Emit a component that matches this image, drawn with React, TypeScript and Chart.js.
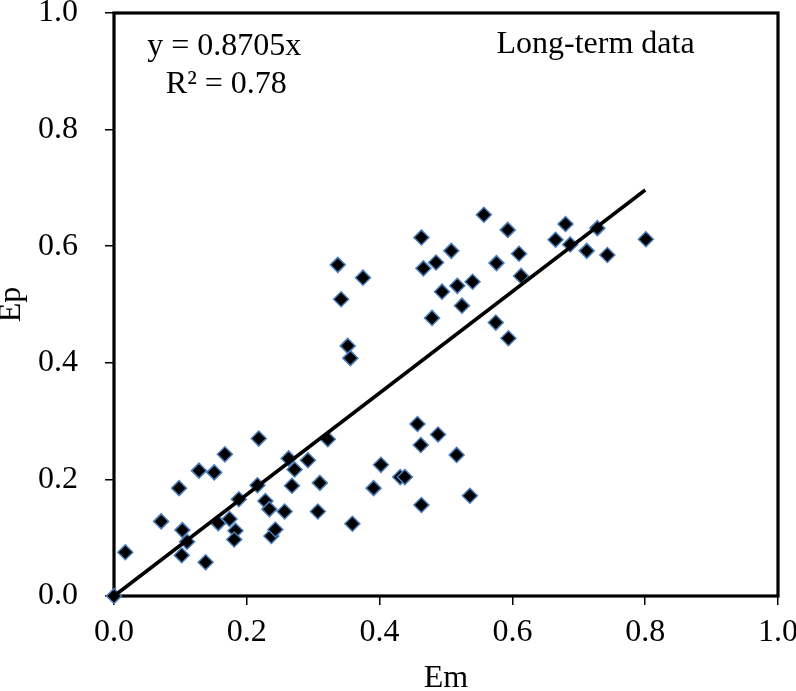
import { useEffect, useRef } from 'react';
import { Chart, registerables } from 'chart.js';

Chart.register(...registerables);

const emValues = [
  0.0, 0.017, 0.071, 0.098, 0.103, 0.102, 0.11, 0.128, 0.138, 0.151, 0.167, 0.157, 0.174, 0.183, 0.181, 0.188,
  0.218, 0.216, 0.228, 0.234, 0.237, 0.243, 0.257, 0.263, 0.272, 0.268, 0.292, 0.31, 0.307, 0.322,
  0.359, 0.391, 0.402, 0.431, 0.457, 0.488, 0.462, 0.516, 0.438, 0.536, 0.463,
  0.337, 0.375, 0.342, 0.352, 0.356, 0.463, 0.466, 0.485, 0.508, 0.494, 0.517, 0.54, 0.524, 0.479,
  0.557, 0.593, 0.576, 0.61, 0.613, 0.575, 0.594, 0.665, 0.68, 0.687, 0.712, 0.728, 0.743, 0.801,
];
const epValues = [
  0.0, 0.075, 0.128, 0.185, 0.113, 0.07, 0.093, 0.215, 0.058, 0.212, 0.243, 0.125, 0.132, 0.112, 0.097, 0.166,
  0.27, 0.19, 0.163, 0.149, 0.103, 0.114, 0.145, 0.236, 0.217, 0.189, 0.233, 0.194, 0.145, 0.269,
  0.124, 0.185, 0.225, 0.204, 0.295, 0.277, 0.259, 0.242, 0.204, 0.172, 0.156,
  0.568, 0.546, 0.509, 0.429, 0.408, 0.615, 0.562, 0.572, 0.592, 0.522, 0.532, 0.539, 0.498, 0.477,
  0.654, 0.628, 0.571, 0.587, 0.549, 0.469, 0.442, 0.611, 0.638, 0.603, 0.592, 0.631, 0.585, 0.612,
];
const trendX = [0, 0.8];
const trendY = [0, 0.6964];
const tickValues = [0, 0.2, 0.4, 0.6, 0.8, 1.0];
const equationText = 'y = 0.8705x';
const r2Text = 'R² = 0.78';
const noteText = 'Long-term data';
const xTitle = 'Em';
const yTitle = 'Ep';

const FONT = '"Liberation Serif", "Times New Roman", serif';

const framePlugin = {
  id: 'frameAndNotes',
  beforeDatasetsDraw(chart: any) {
    const { ctx, chartArea: a } = chart;
    ctx.save();
    ctx.strokeStyle = '#000';
    ctx.lineWidth = 3.2;
    ctx.strokeRect(a.left, a.top, a.right - a.left, a.bottom - a.top);
    ctx.restore();
  },
  afterDraw(chart: any) {
    const { ctx } = chart;
    const xs = chart.scales.x;
    const ys = chart.scales.y;
    ctx.save();
    ctx.fillStyle = '#000';
    ctx.font = `32px ${FONT}`;
    ctx.textBaseline = 'alphabetic';
    ctx.textAlign = 'left';
    ctx.fillText(equationText, xs.getPixelForValue(0.05), ys.getPixelForValue(0.928));
    ctx.fillText(r2Text, xs.getPixelForValue(0.078), ys.getPixelForValue(0.863));
    ctx.fillText(noteText, xs.getPixelForValue(0.576), ys.getPixelForValue(0.931));
    ctx.restore();
  },
};

export default function App() {
  const ref = useRef<HTMLCanvasElement | null>(null);

  useEffect(() => {
    if (!ref.current) return;
    const chart = new Chart(ref.current, {
      type: 'scatter',
      data: {
        datasets: [
          {
            type: 'line',
            label: 'trend',
            data: trendX.map((x, i) => ({ x, y: trendY[i] })),
            borderColor: '#000',
            borderWidth: 3.5,
            pointRadius: 0,
            fill: false,
            clip: false as any,
          } as any,
          {
            label: 'Long-term data',
            data: emValues.map((x, i) => ({ x, y: epValues[i] })),
            pointStyle: 'rectRot',
            pointRadius: 7.5,
            borderWidth: 1.5,
            backgroundColor: '#000',
            borderColor: '#4a7ebb',
            clip: false as any,
          } as any,
        ],
      },
      options: {
        animation: false,
        responsive: false,
        events: [],
        layout: { padding: { left: 0, top: 13, right: 18, bottom: 0 } },
        plugins: { legend: { display: false }, tooltip: { enabled: false } },
        scales: {
          x: {
            type: 'linear',
            min: 0,
            max: 1,
            afterBuildTicks: (s: any) => {
              s.ticks = tickValues.map((v) => ({ value: v }));
            },
            afterFit: (s: any) => {
              s.height = 95;
              s.paddingLeft = 0;
              s.paddingRight = 0;
            },
            ticks: {
              color: '#000',
              font: { family: FONT, size: 32, lineHeight: 1.0 },
              padding: 12,
              callback: (v: any) => Number(v).toFixed(1),
            },
            grid: {
              drawOnChartArea: false,
              drawTicks: true,
              tickLength: 9,
              color: '#000',
              lineWidth: 1.5,
            },
            border: { display: false },
            title: {
              display: true,
              text: xTitle,
              color: '#000',
              font: { family: FONT, size: 32, lineHeight: 0.75 },
              padding: { top: 0, bottom: 0 },
            },
          },
          y: {
            type: 'linear',
            min: 0,
            max: 1,
            afterBuildTicks: (s: any) => {
              s.ticks = tickValues.map((v) => ({ value: v }));
            },
            afterFit: (s: any) => {
              s.width = 114;
              s.paddingTop = 0;
              s.paddingBottom = 0;
            },
            ticks: {
              color: '#000',
              font: { family: FONT, size: 32, lineHeight: 0.9 },
              padding: 27,
              callback: (v: any) => Number(v).toFixed(1),
            },
            grid: {
              drawOnChartArea: false,
              drawTicks: true,
              tickLength: 9,
              color: '#000',
              lineWidth: 1.5,
            },
            border: { display: false },
            title: {
              display: true,
              text: yTitle,
              color: '#000',
              font: { family: FONT, size: 32, lineHeight: 0.75 },
              padding: { top: 0, bottom: 0 },
            },
          },
        },
      } as any,
      plugins: [framePlugin],
    });
    return () => chart.destroy();
  }, []);

  return (
    <div style={{ position: 'absolute', left: 0, top: 0, width: 796, height: 691, background: '#fff' }}>
      <canvas ref={ref} width={796} height={691} />
    </div>
  );
}
